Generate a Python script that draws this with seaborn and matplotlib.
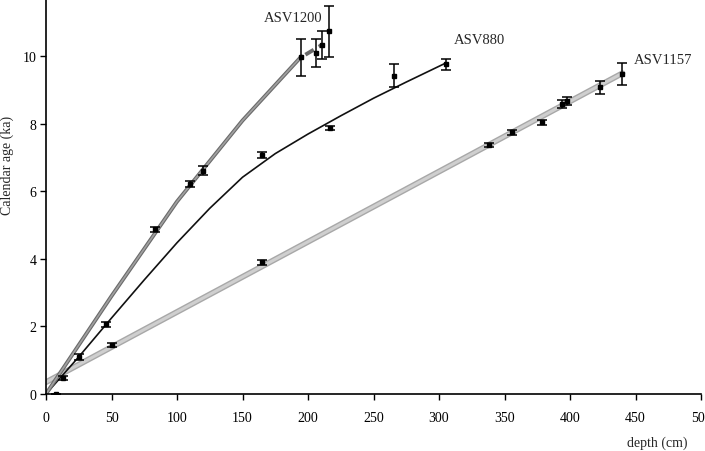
import matplotlib
matplotlib.use("Agg")
import matplotlib.pyplot as plt
import numpy as np
import pandas as pd
import seaborn as sns

sns.set_theme(style="ticks")
plt.rcParams['font.family'] = ['Liberation Serif', 'DejaVu Serif']

# dated samples (depth cm, calendar age ka, 1-sigma error ka)
asv1200_depth = [8, 83, 110, 120, 195, 206, 211, 216]
asv1200_age = [0.0, 4.88, 6.22, 6.62, 9.97, 10.1, 10.33, 10.74]
asv1200_err = [0.0, 0.07, 0.1, 0.12, 0.55, 0.42, 0.41, 0.75]

asv880_depth = [13, 25, 46, 165, 217, 266, 305]
asv880_age = [0.47, 1.1, 2.06, 7.08, 7.88, 9.42, 9.76]
asv880_err = [0.05, 0.08, 0.08, 0.1, 0.07, 0.34, 0.15]

asv1157_depth = [50, 165, 338, 356, 379, 394, 398, 423, 440]
asv1157_age = [1.45, 3.9, 7.38, 7.75, 8.05, 8.6, 8.67, 9.08, 9.47]
asv1157_err = [0.07, 0.07, 0.06, 0.07, 0.07, 0.12, 0.12, 0.18, 0.33]

# age models
m1200_depth = [0, 50, 100, 150, 195]
m1200_age = [0.0, 2.9, 5.7, 8.1, 10.0]
m1200_ext_depth = [198, 211]
m1200_ext_age = [10.05, 10.35]

m880_depth = [0, 25, 50, 75, 100, 125, 150, 175, 200, 225, 250, 275, 305]
m880_age = [0.0, 1.1, 2.25, 3.38, 4.48, 5.5, 6.42, 7.12, 7.7, 8.24, 8.76, 9.24, 9.8]

m1157_depth = [0, 440]
m1157_age = [0.35, 9.5]

fig = plt.figure(figsize=(7.05, 4.52), dpi=100)
ax = fig.add_axes([46 / 705, 57 / 452, 655 / 705, 395 / 452])

models = pd.DataFrame({
    'depth': m1157_depth + m880_depth + m1200_depth,
    'age': m1157_age + m880_age + m1200_age,
    'core': ['ASV1157'] * len(m1157_depth) + ['ASV880'] * len(m880_depth) + ['ASV1200'] * len(m1200_depth),
})

# ASV1157: broad light grey band
d = models[models.core == 'ASV1157']
sns.lineplot(data=d, x='depth', y='age', ax=ax, color='#a8a8a8', lw=4.2, sort=False, estimator=None)
sns.lineplot(data=d, x='depth', y='age', ax=ax, color='#cfcfcf', lw=2.2, sort=False, estimator=None)
# ASV880: thin black
d = models[models.core == 'ASV880']
sns.lineplot(data=d, x='depth', y='age', ax=ax, color='#111111', lw=1.2, sort=False, estimator=None)
# ASV1200: double grey line
d = models[models.core == 'ASV1200']
sns.lineplot(data=d, x='depth', y='age', ax=ax, color='#6a6a6a', lw=2.8, sort=False, estimator=None)
sns.lineplot(data=d, x='depth', y='age', ax=ax, color='#a0a0a0', lw=1.2, sort=False, estimator=None)
ax.plot(m1200_ext_depth, m1200_ext_age, color='#6a6a6a', lw=2.8, ls=(0, (2.5, 1.5)))

for dep, age, err in [(asv1200_depth, asv1200_age, asv1200_err),
                      (asv880_depth, asv880_age, asv880_err),
                      (asv1157_depth, asv1157_age, asv1157_err)]:
    ax.errorbar(dep, age, yerr=err, fmt='s', ms=2.8, color='black', ecolor='black',
                elinewidth=1.1, capsize=3.5, capthick=1.1, zorder=5)

ax.text(188.5, 11.15, 'ASV1200', fontsize=10.5, ha='center', va='center')
ax.text(311, 10.5, 'ASV880', fontsize=10.5, ha='left', va='center')
ax.text(449, 9.9, 'ASV1157', fontsize=10.5, ha='left', va='center')

ax.set_xlim(0, 500)
ax.set_ylim(0, 11.7)
ax.set_xticks(np.arange(0, 501, 50))
ax.set_yticks(np.arange(0, 11, 2))
ax.tick_params(axis='both', direction='out', length=4, width=1, labelsize=10, colors='black', pad=3)
ax.tick_params(axis='x', pad=8)
for s in ['top', 'right']:
    ax.spines[s].set_visible(False)
for s in ['left', 'bottom']:
    ax.spines[s].set_linewidth(1.2)
    ax.spines[s].set_color('black')
ax.set_xlabel('')
ax.set_ylabel('')

fig.text(657 / 705, 1 - 443 / 452, 'depth (cm)', fontsize=10, ha='center', va='center')
fig.text(7 / 705, 1 - 165 / 452, 'Calendar age (ka)', fontsize=10, rotation=90, ha='center', va='center')

fig.savefig('out.png', dpi=100)
